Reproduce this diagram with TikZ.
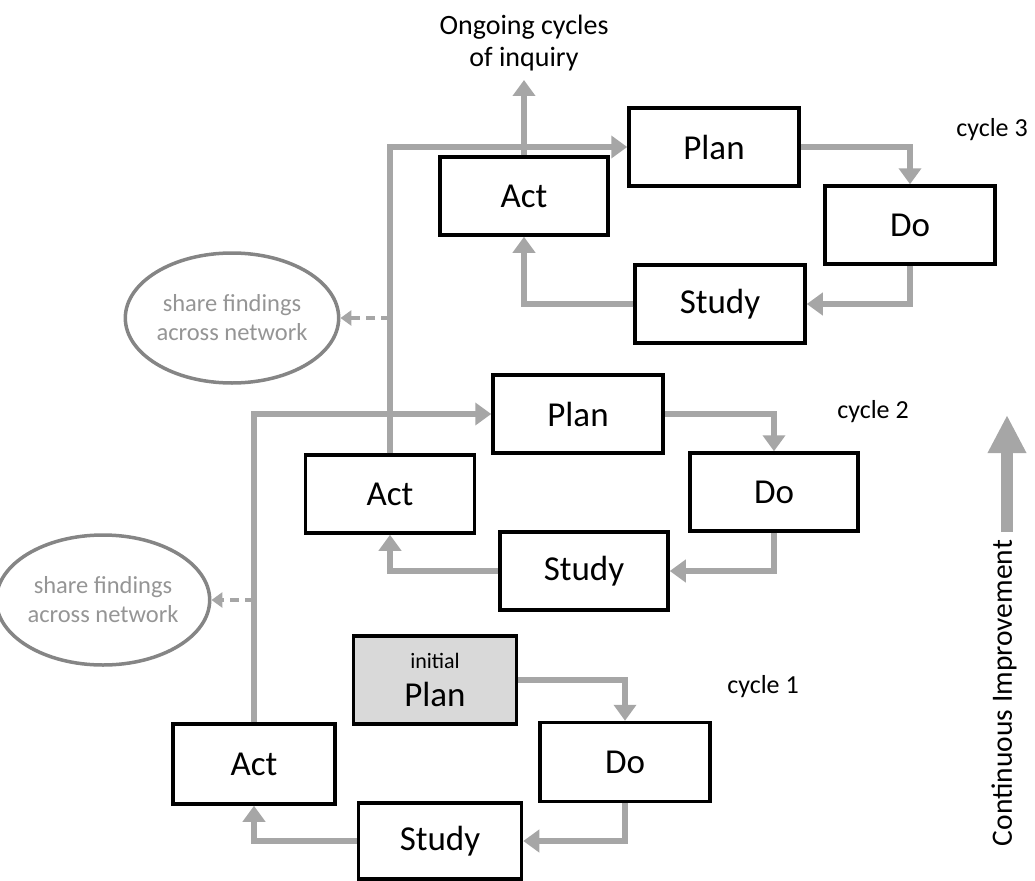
\documentclass[tikz,border=0pt]{standalone}
\usepackage{fontspec}
\setmainfont{Carlito}
\usetikzlibrary{arrows.meta,shapes.geometric}
\definecolor{arrgray}{HTML}{A6A6A6}
\definecolor{ellgray}{HTML}{858585}
\definecolor{txtgray}{HTML}{959595}
\definecolor{plangray}{HTML}{D9D9D9}
\tikzset{
  pbox/.style={draw=black, line width=3.5pt, fill=white, minimum width=170pt, minimum height=78pt, inner sep=0pt, font=\fontsize{35}{40}\selectfont},
  conn/.style={draw=arrgray, line width=5.5pt, -{Triangle[length=16pt,width=22pt]}},
  dconn/.style={draw=arrgray, line width=3.5pt, dash pattern=on 9pt off 6pt, -{Triangle[length=11pt,width=15pt]}},
  share/.style={ellipse, draw=ellgray, line width=3.5pt, minimum width=182pt, minimum height=130pt, inner sep=0pt, align=center, text=txtgray, font=\fontsize{24.5}{29}\selectfont},
  lbl/.style={font=\fontsize{26}{30}\selectfont, inner sep=0pt}
}
\begin{document}
\begin{tikzpicture}[x=1pt,y=-1pt]
\useasboundingbox (0,0) rectangle (1035,880);
% cycle 3
\node[pbox] (plan3) at (714,147) {Plan};
\node[pbox] (do3) at (910,225) {Do};
\node[pbox] (study3) at (720,304) {Study};
\node[pbox, minimum width=168pt] (act3) at (524,196) {Act};
% cycle 2
\node[pbox] (plan2) at (578,414) {Plan};
\node[pbox, minimum width=168pt] (do2) at (774,492) {Do};
\node[pbox, minimum width=168pt] (study2) at (584,571) {Study};
\node[pbox, minimum width=169pt] (act2) at (390,494) {Act};
% cycle 1
\node[pbox, fill=plangray, minimum width=163pt, minimum height=88pt, align=center] (plan1) at (435,680) {{\fontsize{22}{22}\selectfont initial}\\[-2pt]Plan};
\node[pbox, minimum height=79pt] (do1) at (625,762) {Do};
\node[pbox, minimum width=163pt, minimum height=76pt] (study1) at (440,841) {Study};
\node[pbox, minimum width=162pt, minimum height=80pt] (act1) at (254,764) {Act};
% ellipses
\node[share] (e2) at (232,318) {share findings\\across network};
\node[share] (e1) at (103,600) {share findings\\across network};
% labels
\node[lbl] (c3) at (992,130) {cycle 3};
\node[lbl] (c2) at (873,412) {cycle 2};
\node[lbl] (c1) at (763,687) {cycle 1};
\node[font=\fontsize{28}{32}\selectfont, align=center, inner sep=0pt] (ongoing) at (524,43) {Ongoing cycles\\of inquiry};
\coordinate (top) at (524,80);
% cycle 3 connectors
\draw[conn] (plan3.east) -| (do3.north);
\draw[conn] (do3.south) |- (study3.east);
\draw[conn] (study3.west) -| (act3.south);
\draw[conn] (act3.north) -- (top);
% cycle 2 connectors
\draw[conn] (plan2.east) -| (do2.north);
\draw[conn] (do2.south) |- (study2.east);
\draw[conn] (study2.west) -| (act2.south);
\draw[conn] (act2.north) |- (plan3.west);
% cycle 1 connectors
\draw[conn] (plan1.east) -| (do1.north);
\draw[conn] (do1.south) |- (study1.east);
\draw[conn] (study1.west) -| (act1.south);
\draw[conn] (act1.north) |- (plan2.west);
% dashed shares
\draw[dconn] (act2.north |- e2.east) -- (e2.east);
\draw[dconn] (act1.north |- e1.east) -- (e1.east);
% continuous improvement
\coordinate (cibot) at (1007,532);
\coordinate (citop) at (1007,415);
\draw[draw=arrgray, line width=12pt, -{Triangle[length=38pt,width=36pt]}] (cibot) -- (citop);
\node[rotate=90, font=\fontsize{29.5}{32}\selectfont, inner sep=0pt] (ci) at (1004,693) {Continuous Improvement};
\end{tikzpicture}
\end{document}
